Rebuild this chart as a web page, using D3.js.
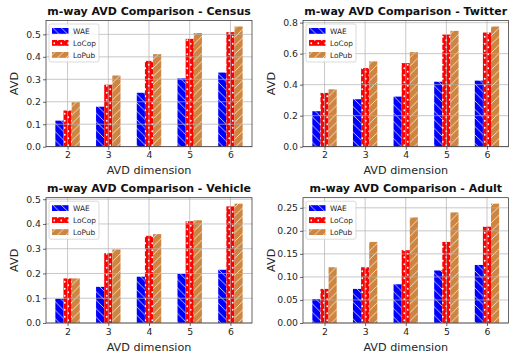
<!DOCTYPE html>
<html><head><meta charset="utf-8">
<script src="https://cdn.jsdelivr.net/npm/d3@7/dist/d3.min.js"></script>
<style>body{margin:0;background:#fff}svg{display:block;font-family:"DejaVu Sans",sans-serif}</style>
</head><body><svg id="c" width="512" height="354"></svg>
<script>
const dims = [2, 3, 4, 5, 6];
const seriesNames = ["WAE", "LoCop", "LoPub"];
const datasets = ["Census", "Twitter", "Vehicle", "Adult"];

const censusWAE   = [0.116, 0.178, 0.240, 0.304, 0.330];
const censusLoCop = [0.161, 0.276, 0.382, 0.480, 0.510];
const censusLoPub = [0.198, 0.317, 0.412, 0.506, 0.535];

const twitterWAE   = [0.229, 0.306, 0.323, 0.419, 0.426];
const twitterLoCop = [0.347, 0.507, 0.539, 0.723, 0.736];
const twitterLoPub = [0.370, 0.550, 0.610, 0.747, 0.775];

const vehicleWAE   = [0.098, 0.146, 0.187, 0.198, 0.215];
const vehicleLoCop = [0.180, 0.282, 0.352, 0.411, 0.471];
const vehicleLoPub = [0.180, 0.297, 0.359, 0.415, 0.482];

const adultWAE   = [0.052, 0.074, 0.084, 0.114, 0.126];
const adultLoCop = [0.074, 0.121, 0.158, 0.176, 0.209];
const adultLoPub = [0.121, 0.176, 0.229, 0.240, 0.259];

const censusTicks  = [0.0, 0.1, 0.2, 0.3, 0.4, 0.5];
const twitterTicks = [0.0, 0.2, 0.4, 0.6, 0.8];
const vehicleTicks = [0.0, 0.1, 0.2, 0.3, 0.4, 0.5];
const adultTicks   = [0.00, 0.05, 0.10, 0.15, 0.20, 0.25];

const seriesByDataset = [
  [censusWAE, censusLoCop, censusLoPub],
  [twitterWAE, twitterLoCop, twitterLoPub],
  [vehicleWAE, vehicleLoCop, vehicleLoPub],
  [adultWAE, adultLoCop, adultLoPub]
];
const ticksByDataset = [censusTicks, twitterTicks, vehicleTicks, adultTicks];
const tickFmt = [d3.format(".1f"), d3.format(".1f"), d3.format(".1f"), d3.format(".2f")];

const svg = d3.select("#c");
const defs = svg.append("defs");

function linePattern(id, color, dir) {
  const s = 8.5;
  const p = defs.append("pattern").attr("id", id).attr("patternUnits", "userSpaceOnUse")
    .attr("width", s).attr("height", s);
  p.append("rect").attr("width", s).attr("height", s).attr("fill", color);
  const d = dir === "/" ?
    `M0,${s} L${s},0 M${-s/2},${s/2} L${s/2},${-s/2} M${s/2},${s*1.5} L${s*1.5},${s/2}` :
    `M0,0 L${s},${s} M${-s/2},${s/2} L${s/2},${s*1.5} M${s/2},${-s/2} L${s*1.5},${s/2}`;
  p.append("path").attr("d", d).attr("stroke", "#fff").attr("stroke-width", 0.9).attr("stroke-opacity", 0.8);
}
linePattern("hatchWAE", "#0000ff", "\\");
linePattern("hatchLoPub", "#cd853f", "/");
{
  const s = 7;
  const p = defs.append("pattern").attr("id", "hatchLoCop").attr("patternUnits", "userSpaceOnUse")
    .attr("width", s).attr("height", s);
  p.append("rect").attr("width", s).attr("height", s).attr("fill", "#ff0000");
  p.append("circle").attr("cx", 1.75).attr("cy", 1.75).attr("r", 0.9).attr("fill", "#fff");
  p.append("circle").attr("cx", 5.25).attr("cy", 5.25).attr("r", 0.9).attr("fill", "#fff");
}
const fills = ["url(#hatchWAE)", "url(#hatchLoCop)", "url(#hatchLoPub)"];

const cols = [[46, 252], [303, 508.5]];
const rows = [[20.5, 146.7], [197.7, 323]];
const barW = 0.2;

datasets.forEach((name, k) => {
  const [x0, x1] = cols[k % 2];
  const [y0, y1] = rows[Math.floor(k / 2)];
  const ser = seriesByDataset[k];
  const ymax = d3.max(ser.flat()) * 1.05;
  const span = dims[4] - dims[0] + 3 * barW;
  const xs = d3.scaleLinear().domain([dims[0] - 1.5 * barW - 0.05 * span, dims[4] + 1.5 * barW + 0.05 * span])
    .range([x0, x1]);
  const ys = d3.scaleLinear().domain([0, ymax]).range([y1, y0]);
  const g = svg.append("g");

  ser.forEach((vals, i) => {
    g.append("g").selectAll("rect").data(vals).join("rect")
      .attr("x", (v, j) => xs(dims[j] + (i - 1) * barW - barW / 2))
      .attr("width", xs(barW) - xs(0))
      .attr("y", v => ys(v))
      .attr("height", v => ys(0) - ys(v))
      .attr("fill", fills[i]);
  });

  g.append("g").selectAll("line").data(ticksByDataset[k]).join("line")
    .attr("x1", x0).attr("x2", x1).attr("y1", d => ys(d)).attr("y2", d => ys(d))
    .attr("stroke", "#b0b0b0").attr("stroke-width", 0.7);
  g.append("g").selectAll("line").data(dims).join("line")
    .attr("x1", d => xs(d)).attr("x2", d => xs(d)).attr("y1", y0).attr("y2", y1)
    .attr("stroke", "#b0b0b0").attr("stroke-width", 0.7);

  const ax = g.append("g").attr("transform", `translate(0,${y1})`)
    .call(d3.axisBottom(xs).tickValues(dims).tickFormat(d3.format("d")).tickSize(3).tickPadding(2));
  const ay = g.append("g").attr("transform", `translate(${x0},0)`)
    .call(d3.axisLeft(ys).tickValues(ticksByDataset[k]).tickFormat(tickFmt[k]).tickSize(3).tickPadding(2));
  [ax, ay].forEach(a => {
    a.select(".domain").remove();
    a.selectAll("text").attr("font-size", 9.3).attr("fill", "#262626").attr("font-family", "DejaVu Sans");
    a.selectAll("line").attr("stroke", "#262626").attr("stroke-width", 0.7);
  });
  g.append("rect").attr("x", x0).attr("y", y0).attr("width", x1 - x0).attr("height", y1 - y0)
    .attr("fill", "none").attr("stroke", "#262626").attr("stroke-width", 0.7);

  g.append("text").attr("x", (x0 + x1) / 2).attr("y", y0 - 5.5).attr("text-anchor", "middle")
    .attr("font-size", 11).attr("font-weight", "bold").attr("fill", "#111")
    .text("m-way AVD Comparison - " + name);
  g.append("text").attr("x", (x0 + x1) / 2).attr("y", y1 + 27.5).attr("text-anchor", "middle")
    .attr("font-size", 11.2).attr("fill", "#262626").text("AVD dimension");
  g.append("text").attr("transform", `translate(${x0 - 28},${(y0 + y1) / 2}) rotate(-90)`)
    .attr("text-anchor", "middle").attr("font-size", 11.2).attr("fill", "#262626").text("AVD");

  const lg = g.append("g").attr("transform", `translate(${x0 + 3},${y0 + 3.5})`);
  lg.append("rect").attr("width", 50).attr("height", 38).attr("rx", 2)
    .attr("fill", "#fff").attr("fill-opacity", 0.8).attr("stroke", "#cccccc").attr("stroke-width", 0.7);
  seriesNames.forEach((s, i) => {
    lg.append("rect").attr("x", 3).attr("y", 4 + i * 12).attr("width", 16.5).attr("height", 5.8).attr("fill", fills[i]);
    lg.append("text").attr("x", 24).attr("y", 9.8 + i * 12).attr("font-size", 7.4).attr("fill", "#262626").text(s);
  });
});
</script></body></html>
